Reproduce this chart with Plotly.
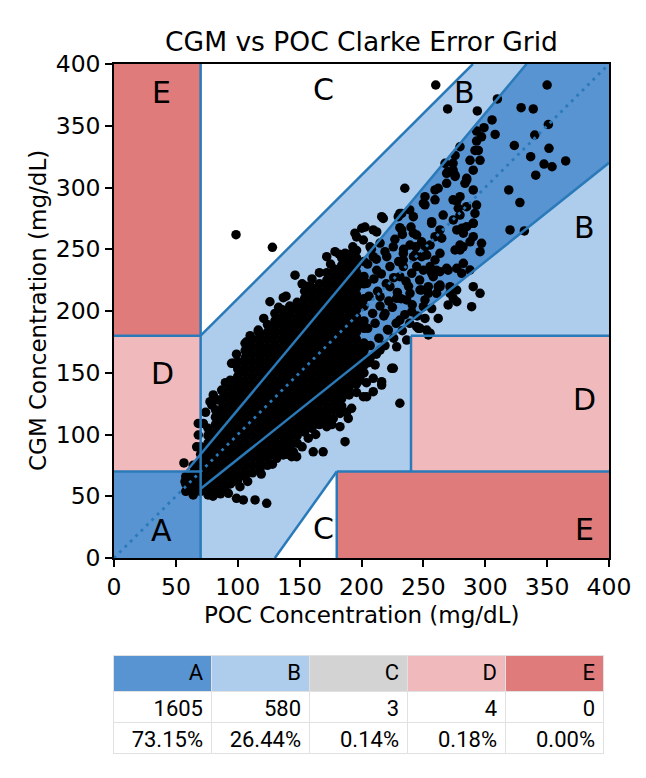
import plotly.graph_objects as go

# ---------------- data ----------------
# dense core of the scatter, one list of CGM values per POC column
core_poc_cols = [58, 64, 70, 76, 82, 88, 94, 100, 106, 112, 118, 124, 130,
                 136, 142, 148, 154, 160, 166, 172, 178, 184, 190, 196, 202]
core_cgm_cols = [
    [54, 60, 66],
    [51, 57, 63, 69, 75],
    [54, 60, 66, 72, 78, 84, 90],
    [51, 57, 63, 69, 75, 81, 87, 93, 99, 105],
    [54, 60, 66, 72, 78, 84, 90, 96, 102, 108, 114, 120],
    [57, 63, 69, 75, 81, 87, 93, 99, 105, 111, 117, 123, 129, 135],
    [60, 66, 72, 78, 84, 90, 96, 102, 108, 114, 120, 126, 132, 138, 144],
    [63, 69, 75, 81, 87, 93, 99, 105, 111, 117, 123, 129, 135, 141, 147, 153, 159],
    [66, 72, 78, 84, 90, 96, 102, 108, 114, 120, 126, 132, 138, 144, 150, 156, 162, 168],
    [69, 75, 81, 87, 93, 99, 105, 111, 117, 123, 129, 135, 141, 147, 153, 159, 165, 171, 177],
    [72, 78, 84, 90, 96, 102, 108, 114, 120, 126, 132, 138, 144, 150, 156, 162, 168, 174, 180],
    [75, 81, 87, 93, 99, 105, 111, 117, 123, 129, 135, 141, 147, 153, 159, 165, 171, 177, 183, 189],
    [84, 90, 96, 102, 108, 114, 120, 126, 132, 138, 144, 150, 156, 162, 168, 174, 180, 186, 192, 198],
    [87, 93, 99, 105, 111, 117, 123, 129, 135, 141, 147, 153, 159, 165, 171, 177, 183, 189, 195, 201],
    [90, 96, 102, 108, 114, 120, 126, 132, 138, 144, 150, 156, 162, 168, 174, 180, 186, 192, 198, 204],
    [93, 99, 105, 111, 117, 123, 129, 135, 141, 147, 153, 159, 165, 171, 177, 183, 189, 195, 201, 207],
    [102, 108, 114, 120, 126, 132, 138, 144, 150, 156, 162, 168, 174, 180, 186, 192, 198, 204, 210, 216],
    [105, 111, 117, 123, 129, 135, 141, 147, 153, 159, 165, 171, 177, 183, 189, 195, 201, 207, 213, 219],
    [108, 114, 120, 126, 132, 138, 144, 150, 156, 162, 168, 174, 180, 186, 192, 198, 204, 210, 216, 222],
    [111, 117, 123, 129, 135, 141, 147, 153, 159, 165, 171, 177, 183, 189, 195, 201, 207, 213, 219, 225, 231],
    [120, 126, 132, 138, 144, 150, 156, 162, 168, 174, 180, 186, 192, 198, 204, 210, 216, 222, 228, 234],
    [123, 129, 135, 141, 147, 153, 159, 165, 171, 177, 183, 189, 195, 201, 207, 213, 219, 225, 231, 237, 243],
    [132, 138, 144, 150, 156, 162, 168, 174, 180, 186, 192, 198, 204, 210, 216, 222, 228, 234, 240, 246],
    [141, 147, 153, 159, 165, 171, 177, 183, 189, 195, 201, 207, 213, 219, 225, 231, 237, 243, 249],
    [150, 156, 162, 168, 174, 186, 192, 204, 210, 222, 228, 240],
]

# semi-dense part of the cloud (POC 205-247), (POC, CGM)
mid_cluster = [
    (205, 158), (207, 172), (205, 186), (209, 198), (206, 212), (210, 226), (205, 238), (208, 250),
    (212, 165), (214, 178), (211, 190), (215, 204), (213, 216), (216, 230), (212, 242), (215, 255),
    (219, 172), (221, 185), (218, 196), (222, 208), (220, 222), (223, 236), (219, 248),
    (226, 178), (228, 190), (225, 203), (229, 215), (226, 227), (230, 240), (227, 258),
    (233, 184), (235, 197), (232, 210), (236, 224), (234, 250), (233, 262),
    (239, 190), (241, 205), (238, 220), (242, 244), (240, 268),
    (245, 196), (247, 225), (244, 252),
]
# ragged edges of the dense core (POC, CGM)
core_fringe = [
    (74, 118), (84, 128), (90, 142), (99, 165), (110, 180), (121, 194), (133, 203),
    (139, 212), (152, 222), (160, 226), (166, 231), (175, 238), (182, 246), (193, 252),
    (80, 50), (86, 52), (108, 62), (119, 68), (128, 76), (140, 84), (152, 90),
    (163, 100), (176, 108), (188, 118), (196, 134), (204, 142),
]

# individual points outside the dense core (POC, CGM)
upper_spread = [
    (260, 383), (269.6, 363.6), (293.6, 362), (309.8, 371.7), (350, 383), (329, 364.6),
    (338.8, 363.6), (351, 351), (340, 342.5), (323.5, 334), (336.7, 325), (351.5, 331.7),
    (347.5, 319), (354, 316.8), (365, 321.5), (340.8, 310), (319, 298), (328, 287.8),
    (320, 265.6), (331.6, 264.8), (305.5, 354.7), (308, 343), (299, 348.4), (293, 345.7),
    (297, 341), (293, 337.6), (294.4, 330), (295.8, 322), (279.6, 333), (275.6, 326),
    (274, 319.6), (270, 312.8), (275.6, 310), (285, 307.4), (283.6, 303.4), (262, 299.4),
    (251.3, 292.6), (250, 287.2), (259.4, 290), (274, 290), (279.6, 292.6), (285, 284.5),
    (278.2, 283.2), (293, 285.8), (291.7, 279), (290.3, 271), (281, 267), (282.3, 263),
    (287.7, 256), (297, 254.8), (295.8, 248), (279.6, 249.4), (282, 252), (263.4, 265.6),
    (256.7, 271), (264.8, 259), (255.4, 253.4), (248.6, 256), (241.9, 263), (232.5, 265.6),
    (235, 299.4), (232.5, 279), (239, 281.8), (270, 233), (259.4, 241.3), (252.7, 245.3),
    (263.4, 231.8), (256.7, 230.5), (262, 219.7), (271.5, 219.7), (276.9, 217), (274.2, 210.3),
    (270, 204.9), (289, 203.5), (295.8, 214.3), (262, 194), (252.7, 184.6), (244.6, 187.3),
    (281, 230.5), (287.7, 233.2), (277, 234.6), (248.6, 217), (251.3, 209), (239.2, 214.3),
    (244.6, 236), (233.8, 236), (233.8, 246.7), (225.7, 252), (209.5, 265.6), (216.3, 276.4),
    (202.8, 268), (229.7, 276.4), (251.3, 194), (256.7, 202), (217.6, 275), (212.3, 264),
    (200.2, 267), (196, 260), (201.5, 257.5), (178.6, 248), (171.9, 244), (186.7, 246.7),
    (231, 279), (268.8, 311.5), (268.8, 303.4), (275.6, 309), (285, 306), (291.7, 330),
    (259.4, 298), (251.3, 286), (256.7, 272.3), (241.9, 276.4), (244.6, 261.5), (231, 267.5),
    (239.2, 253.4), (251.3, 252), (263.4, 246.7), (248.6, 244), (243.2, 245.3), (233.8, 241.3),
    (255.4, 236), (258, 227.8), (250, 233), (240.6, 230.5), (231, 227.8), (223, 219.7),
    (228.4, 210.3), (247.3, 217), (254, 214.3), (271.5, 214.3), (290.3, 219.7), (282.3, 238.6),
    (268.8, 234.6), (290.3, 260.2), (279.6, 253.4), (277, 265.6), (285, 268.3), (290.3, 271),
    (259.4, 260.2), (274.2, 273.7), (279.6, 277.7), (206.9, 252), (209.5, 244), (220.4, 244),
    (212.3, 233), (190.7, 238.6), (185.3, 233.2), (215, 211.6), (204.2, 222.4), (290.3, 298),
    (277, 288.9), (266, 277.7), (274, 314), (267.5, 319.6), (290.3, 314), (287.7, 322),
    (260.7, 233), (275.6, 249.4), (263.4, 221), (260.7, 214.3), (254, 219.7), (240.6, 199.4),
    (231, 192.7), (221.7, 184.6), (219, 198), (236.5, 209), (250, 203.5), (263.4, 219.7),
    (247.3, 186), (255.4, 182), (254, 180.6), (246, 186), (277, 207.5),
    (146.3, 229), (155.7, 220), (136.8, 210.8), (126, 207.5), (116.6, 184.6), (107.2, 175.1),
    (107.2, 165.7), (96.4, 157.6), (194.7, 263), (188, 240), (77.6, 126.6), (80.2, 132),
    (95, 157.6), (105.9, 173.8), (116.6, 183.3), (79, 123.9), (87, 136), (72.2, 109),
]
lower_spread = [
    (224.4, 153.6), (231, 125.3), (216.3, 142.8), (209.5, 134.7), (201.5, 130.6), (193.4, 149.6),
    (198.8, 144), (192, 121.2), (182.6, 117), (206.9, 161.7), (215, 168.4), (228.4, 171),
    (236.5, 176.5), (225.7, 153.6), (216.3, 140), (204.2, 130.6), (201.5, 149.6), (211, 156.3),
    (209.5, 145.5), (57.4, 61.8), (64, 52.4), (65.5, 65.8), (104.5, 47), (114, 47),
    (123.4, 44.3), (143.6, 82), (147.6, 82), (131.5, 80.7), (101.8, 57.7), (92.4, 52.4),
    (99, 48.3), (63.8, 55), (68, 59), (171.9, 106.3), (177.2, 113), (180, 122.5),
    (186.7, 94.2), (182.6, 106.3), (189.3, 113), (161, 86), (169, 86), (157, 97),
    (145, 86), (136.8, 83.4), (89.7, 55), (96.4, 61.8),
]
c_zone_points = [(98.6, 261.8), (128, 251.6)]
d_zone_points = [(56.5, 77), (68.1, 109), (68.1, 99.6), (66.8, 90)]

# summary table
zones = ["A", "B", "C", "D", "E"]
zone_counts = [1605, 580, 3, 4, 0]
zone_percents = ["73.15%", "26.44%", "0.14%", "0.18%", "0.00%"]

# Clarke grid geometry (mg/dL)
zone_a_poc = [0, 70, 70, 400, 400, 400 / 1.2, 70 / 1.2, 0]
zone_a_cgm = [0, 0, 56, 320, 400, 400, 70, 70]
upper_c_poc, upper_c_cgm = [70, 290, 70], [180, 400, 400]
lower_c_poc, lower_c_cgm = [130, 180, 180], [0, 70, 0]
upper_d_poc, upper_d_cgm = [0, 70, 70, 0], [70, 70, 180, 180]
upper_e_poc, upper_e_cgm = [0, 70, 70, 0], [180, 180, 400, 400]
lower_d_poc, lower_d_cgm = [240, 400, 400, 240], [70, 70, 180, 180]
lower_e_poc, lower_e_cgm = [180, 400, 400, 180], [0, 0, 70, 70]
boundary_segments = [
    ([0, 70], [70, 70]),
    ([70 / 1.2, 400 / 1.2], [70, 400]),
    ([70, 70], [0, 400]),
    ([0, 70], [180, 180]),
    ([70, 290], [180, 400]),
    ([70, 400], [56, 320]),
    ([130, 180], [0, 70]),
    ([180, 180], [0, 70]),
    ([180, 400], [70, 70]),
    ([240, 240], [70, 180]),
    ([240, 400], [180, 180]),
]
zone_labels = ["A", "B", "B", "C", "C", "D", "D", "E", "E"]
label_poc = [38, 283, 380, 169, 169, 39, 380, 38, 380]
label_cgm = [22, 377, 268, 379, 24, 149, 128, 377, 23]

# ---------------- style ----------------
COL_A = "rgb(88,147,210)"
COL_B = "rgb(174,205,236)"
COL_C = "rgb(211,211,211)"
COL_D = "rgb(240,186,188)"
COL_E = "rgb(224,123,124)"
LINE = "rgb(42,122,186)"
FONT = "DejaVu Sans"

W, H = 646, 778
OFF = 8  # the page body adds an 8px margin
PL, PR, PT, PB = 114 - OFF, 609 - OFF, 64 - OFF, 558 - OFF

fig = go.Figure()


def fill(xs, ys, color):
    fig.add_trace(go.Scatter(x=xs, y=ys, fill="toself", fillcolor=color, mode="lines",
                             line=dict(width=0), hoverinfo="skip", showlegend=False))


fill(zone_a_poc, zone_a_cgm, COL_A)
fill(upper_c_poc, upper_c_cgm, "white")
fill(lower_c_poc, lower_c_cgm, "white")
fill(upper_d_poc, upper_d_cgm, COL_D)
fill(upper_e_poc, upper_e_cgm, COL_E)
fill(lower_d_poc, lower_d_cgm, COL_D)
fill(lower_e_poc, lower_e_cgm, COL_E)

pts_x, pts_y = [], []
for x, ys in zip(core_poc_cols, core_cgm_cols):
    pts_x += [x] * len(ys)
    pts_y += ys
for group in (mid_cluster, core_fringe, upper_spread, lower_spread, c_zone_points, d_zone_points):
    pts_x += [p[0] for p in group]
    pts_y += [p[1] for p in group]

fig.add_trace(go.Scatter(x=pts_x, y=pts_y, mode="markers",
                         marker=dict(color="black", size=9.5, line=dict(width=0)),
                         showlegend=False, hoverinfo="skip"))

seg_x, seg_y = [], []
for sx, sy in boundary_segments:
    seg_x += sx + [None]
    seg_y += sy + [None]
fig.add_trace(go.Scatter(x=seg_x, y=seg_y, mode="lines",
                         line=dict(color=LINE, width=2.5), showlegend=False, hoverinfo="skip"))
fig.add_trace(go.Scatter(x=[0, 400], y=[0, 400], mode="lines",
                         line=dict(color=LINE, width=2.8, dash="2.8px,4.8px"),
                         showlegend=False, hoverinfo="skip"))

for t, lx, ly in zip(zone_labels, label_poc, label_cgm):
    fig.add_annotation(x=lx, y=ly, text=t, showarrow=False,
                       font=dict(family=FONT, size=30, color="black"))

fig.add_trace(go.Table(
    domain=dict(x=[(113 - OFF) / W, (603 - OFF) / W], y=[0.0, 1 - (655 - OFF) / H]),
    columnwidth=[1, 1, 1, 1, 1],
    header=dict(values=zones, fill_color=[COL_A, COL_B, COL_C, COL_D, COL_E],
                align="right", height=36, line=dict(color="rgb(225,225,225)", width=1),
                font=dict(family="Roboto", size=22, color="black")),
    cells=dict(values=[[c, p] for c, p in zip(zone_counts, zone_percents)],
               fill_color="white", align="right", height=31,
               line=dict(color="rgb(225,225,225)", width=1),
               font=dict(family="Roboto", size=22, color="black")),
))

axis_common = dict(range=[0, 400], tickvals=[0, 50, 100, 150, 200, 250, 300, 350, 400],
                   showgrid=False, zeroline=False, showline=True, mirror=True,
                   linecolor="black", linewidth=1.5, ticks="outside", ticklen=7,
                   tickwidth=1.5, tickcolor="black", automargin=False,
                   tickfont=dict(family=FONT, size=23.5, color="black"))
fig.update_layout(
    template="none",
    width=W, height=H, margin=dict(l=0, r=0, t=0, b=0, autoexpand=False),
    paper_bgcolor="white", plot_bgcolor=COL_B,
    xaxis=dict(domain=[PL / W, PR / W], **axis_common),
    yaxis=dict(domain=[1 - PB / H, 1 - PT / H], **axis_common),
    title=dict(text="CGM vs POC Clarke Error Grid", x=(PL + PR) / 2 / W, xanchor="center",
               y=1 - (42 - OFF) / H, yanchor="middle", yref="container", automargin=False,
               font=dict(family=FONT, size=26.5, color="black")),
)
fig.add_annotation(text="POC Concentration (mg/dL)", xref="paper", yref="paper",
                   x=(PL + PR) / 2 / W, y=1 - (615 - OFF) / H, xanchor="center",
                   yanchor="middle", showarrow=False,
                   font=dict(family=FONT, size=23, color="black"))
fig.add_annotation(text="CGM Concentration (mg/dL)", xref="paper", yref="paper",
                   x=(38 - OFF) / W, y=1 - (PT + PB) / 2 / H, xanchor="center",
                   yanchor="middle", showarrow=False, textangle=-90,
                   font=dict(family=FONT, size=23, color="black"))

fig.write_html("out.html")
